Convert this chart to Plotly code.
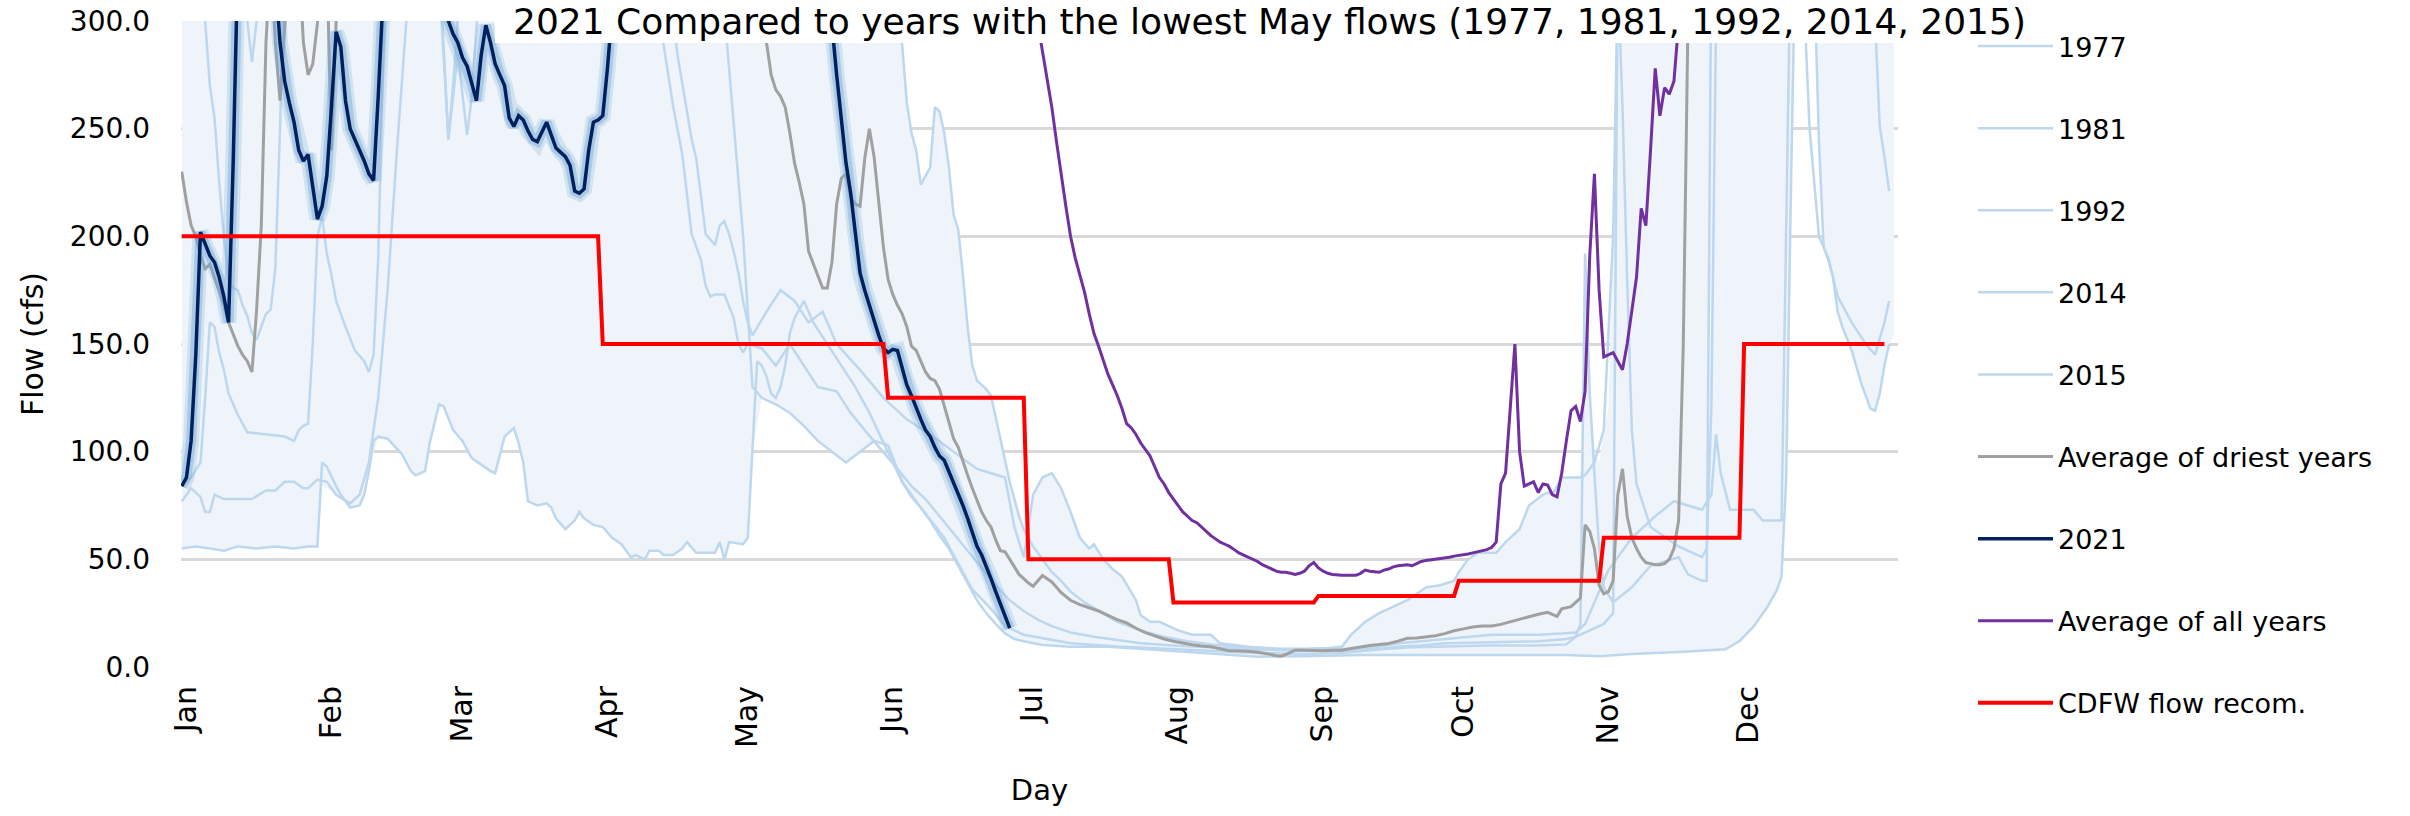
import pandas as pd
import plotly.graph_objects as go

# ---- data (day of year offset from Jan 1, flow in cfs) ----
months = ["Jan", "Feb", "Mar", "Apr", "May", "Jun", "Jul", "Aug", "Sep", "Oct", "Nov", "Dec"]

band_low_day = [0, 3, 6, 9, 12, 16, 20, 24, 27, 29, 30, 31, 33, 34, 36, 38, 39, 40, 41, 42, 44, 47, 49, 50, 52, 53,
                55, 56, 58, 60, 62, 64, 66, 67, 69, 71, 72, 73, 74, 76, 78, 79, 80, 82, 84, 85, 86, 88, 90, 92, 94, 96,
                97, 99, 100, 102, 103, 105, 107, 108, 110, 112, 114, 115, 116, 117, 120, 121, 122, 124, 127, 130, 133,
                136, 139, 142, 145, 148, 151, 154, 158, 163, 166, 169, 173, 176, 179, 184, 190, 198, 208, 219, 230,
                240, 252, 274, 296, 303, 310, 320, 330, 333, 336, 339, 341, 342, 343, 344, 345, 348, 349, 350, 351,
                352, 353, 354, 355, 357, 359, 361, 362, 363, 364, 365, 366]
band_low_flow = [55, 56, 55, 54, 56, 55, 56, 55, 56, 56, 84, 83, 80, 79, 74, 75, 80, 88, 100, 106, 106, 99, 91, 89, 91,
                 102, 120, 121, 110, 104, 97, 94, 91, 90, 107, 111, 104, 95, 77, 75, 76, 74, 69, 64, 68, 72, 69, 66, 65,
                 60, 57, 51, 52, 50, 54, 54, 52, 52, 55, 58, 53, 53, 53, 58, 50, 58, 57, 60, 100, 125, 122, 118, 112,
                 105, 100, 95, 100, 105, 103, 86, 74, 60, 48, 36, 27, 16, 12.5, 10.2, 9.4, 9.4, 8, 6.4, 4.8, 5, 5.6,
                 5.6, 5.6, 5, 6, 7, 8.2, 12, 18.7, 28, 35.7, 42, 88, 220, 340, 360, 320, 244, 195, 189, 181, 165, 158,
                 147, 132, 120, 119, 127, 140, 150, 154]

band_high_day = [0, 152, 153, 154, 155, 156, 157, 158, 159, 160, 161, 162, 163, 164, 165, 166, 167, 168, 169, 170, 171,
                 172, 173, 174, 175, 176, 177, 178, 179, 180, 181, 182, 183, 184, 185, 186, 187, 188, 189, 190, 191,
                 192, 193, 194, 195, 196, 197, 199, 201, 203, 204, 205, 206, 208, 210, 212, 214, 216, 220, 222, 224,
                 228, 232, 236, 240, 244, 248, 250, 253, 256, 259, 262, 266, 269, 272, 273, 275, 277, 281, 283, 286,
                 288, 291, 292, 293, 295, 297, 299, 300, 301, 302, 303, 304, 305, 306, 307, 366]
band_high_flow = [450, 400, 330, 289, 262, 248, 240, 224, 228, 232, 260, 258, 248, 232, 210, 203, 182, 158, 140, 133,
                  131, 129, 126, 116, 105, 95, 88, 80, 72, 64, 62, 78, 84, 88, 89.5, 90, 86, 83, 77, 72, 67, 62, 57, 55,
                  57, 52, 50, 45.5, 42, 35, 31, 25, 22, 21, 19.5, 17.5, 16, 15, 15, 11.3, 10.4, 9.4, 8.8, 8.5, 8.5,
                  8.8, 9.4, 15, 21, 25, 28, 31, 37, 38, 40, 44, 50, 53, 53, 58, 64, 75, 80, 81, 80, 88, 88, 88, 192,
                  127, 100, 95, 110, 120, 200, 330, 400]

y1977_day = [0, 3, 6, 9, 12, 16, 20, 24, 27, 29, 30, 31, 33, 34, 36, 38, 39, 40, 41, 42, 44, 47, 49, 50, 52, 53, 55, 56,
             58, 60, 62, 64, 66, 67, 69, 71, 72, 73, 74, 76, 78, 79, 80, 82, 84, 85, 86, 88, 90, 92, 94, 96, 97, 99,
             100, 102, 103, 105, 107, 108, 110, 112, 114, 115, 116, 117, 120, 121, 122, 123, 124, 125, 126, 127, 128,
             129, 130, 131, 133, 135, 138, 141, 144, 147, 150, 152, 154, 156, 158, 160, 162, 164, 166, 168, 170, 172,
             174, 176, 178, 180, 184, 190, 198, 208, 219, 230, 240, 252, 274, 296, 303, 310, 320, 330, 333, 336, 339,
             341, 342, 343, 344, 345, 348, 349, 350, 351, 352, 353, 354, 355, 357, 359, 361, 362, 363, 364, 365]
y1977_flow = [55, 56, 55, 54, 56, 55, 56, 55, 56, 56, 95, 93, 84, 80, 74, 75, 80, 91, 105, 107, 106, 99, 91, 89, 91, 104,
              122, 121, 110, 105, 97, 94, 91, 90, 107, 111, 104, 95, 77, 75, 76, 74, 69, 64, 68, 72, 69, 66, 65, 60,
              57, 51, 52, 50, 54, 54, 52, 52, 55, 58, 53, 53, 53, 58, 50, 58, 57, 60, 100, 142, 140, 135, 127, 125,
              130, 140, 155, 162, 170, 160, 150, 140, 130, 118, 104, 95, 86, 79, 74, 68, 61, 55, 47, 39, 31, 25, 20,
              15.6, 13, 12, 10.2, 9.4, 9.4, 8, 6.4, 4.8, 5, 5.6, 5.6, 5.6, 5, 6, 7, 8.2, 12, 18.7, 28, 35.7, 42, 88,
              220, 340, 360, 320, 244, 195, 189, 181, 165, 158, 147, 132, 120, 119, 127, 140, 150]

y1981_day = [0, 2, 4, 5, 6, 7, 9, 12, 15, 18, 20, 22, 24, 26, 27, 29, 31, 33, 36, 38, 40, 42, 44, 46, 48, 52, 55, 57,
             59, 61, 62, 64, 75, 100, 115, 120, 122, 124, 127, 130, 133, 136, 139, 142, 145, 148, 151, 154, 158, 163,
             166, 169, 173, 176, 180, 185, 190, 200, 210, 220, 230, 240, 248, 255, 262, 270, 280, 290, 296, 298, 299,
             300, 301, 302, 303, 304, 306, 310, 314, 320, 322, 325, 326, 327, 332, 345, 347, 348, 350, 352, 354, 357,
             360, 362, 364, 365]
y1981_flow = [77, 83, 79, 72, 72, 80, 78, 78, 78, 82, 82, 86, 86, 83, 83, 87, 86, 80, 76, 80, 95, 125, 175, 240, 300,
              340, 320, 245, 285, 247, 265, 330, 420, 380, 330, 200, 130, 125, 122, 118, 112, 105, 100, 95, 100, 105,
              103, 86, 74, 60, 48, 36, 27, 19, 15, 13, 11, 9.5, 8.5, 7.5, 6.5, 6, 6.5, 8, 9, 9.5, 10, 10, 10.5, 14,
              20, 192, 127, 90, 55, 37, 30, 37, 47, 51, 43, 40, 40, 330, 380, 330, 300, 250, 200, 190, 172, 160, 150,
              145, 160, 170]

y1992_day = [0, 2, 4, 5, 6, 7, 8, 9, 10, 12, 14, 18, 22, 24, 25, 26, 27, 28, 29, 30, 31, 32, 33, 35, 37, 39, 40, 41, 42,
             43, 44, 70, 110, 140, 150, 154, 155, 156, 157, 158, 159, 160, 161, 162, 163, 164, 165, 166, 167, 168,
             169, 170, 171, 172, 173, 174, 175, 176, 177, 178, 179, 180, 181, 182, 184, 186, 188, 190, 193, 196, 200,
             205, 210, 215, 220, 225, 230, 235, 240, 245, 248, 250, 253, 256, 259, 262, 266, 269, 272, 273, 275, 277,
             281, 283, 286, 288, 291, 292, 293, 295, 297, 299, 300, 302, 304, 306, 307, 308, 309, 310, 311, 314, 320,
             325, 326, 327, 328, 330, 350, 360, 362, 363, 364, 365]
y1992_flow = [85, 88, 95, 125, 160, 158, 146, 138, 127, 117, 109, 108, 107, 105, 110, 112, 113, 150, 200, 209, 192, 182,
              170, 158, 147, 142, 137, 145, 190, 280, 340, 480, 430, 380, 330, 289, 262, 248, 240, 224, 228, 232, 260,
              258, 248, 232, 210, 203, 182, 158, 140, 133, 131, 129, 126, 116, 105, 95, 86, 78, 70, 64, 60, 56, 50, 44,
              40, 35, 30, 26, 21, 17, 14, 12, 10.5, 9.5, 9, 8.5, 8.5, 8.8, 9.4, 15, 21, 25, 28, 31, 37, 38, 40, 44, 50,
              53, 53, 58, 64, 75, 80, 81, 80, 88, 88, 88, 89, 95, 110, 200, 320, 260, 180, 110, 85, 65, 56, 51, 55,
              120, 300, 380, 400, 320, 300, 251, 237, 221]

y2014_day = [0, 4, 5, 6, 7, 8, 9, 10, 11, 12, 13, 14, 15, 16, 17, 18, 19, 20, 21, 22, 30, 55, 57, 58, 59, 60, 80, 104,
             106, 108, 109, 110, 111, 112, 114, 115, 116, 117, 118, 119, 120, 121, 122, 125, 128, 131, 134, 137, 140,
             145, 150, 155, 160, 165, 170, 173, 176, 178, 180, 182, 184, 186, 188, 190, 192, 194, 195, 197, 199, 201,
             203, 204, 205, 207, 209, 211, 213, 216, 220, 222, 224, 228, 235, 245, 255, 260, 265, 270, 275, 280, 285,
             290, 295, 298, 300, 302, 305, 310, 315, 319, 322, 325, 327, 328, 329, 331, 336, 338, 342, 343, 344, 360,
             365]
y2014_flow = [360, 330, 300, 270, 255, 225, 200, 180, 176, 175, 168, 163, 155, 152, 158, 164, 166, 185, 250, 330, 420,
              330, 245, 270, 300, 330, 420, 320, 284, 257, 245, 236, 218, 201, 196, 205, 207, 201, 193, 183, 170, 160,
              154, 165, 175, 170, 160, 165, 150, 138, 125, 115, 108, 100, 92, 90, 88, 65, 51, 80, 88, 90, 83, 72, 60,
              55, 57, 50, 45.5, 42, 35, 31, 24, 21, 21, 19, 17, 15, 15, 11, 10.4, 9.4, 8, 8, 9, 11, 12, 13, 14, 15,
              15, 15, 15.5, 16, 20, 30, 45, 60, 70, 77, 75, 73, 80, 108, 90, 73, 73, 68, 68, 200, 340, 400, 380]

y2015_day = [0, 10, 14, 15, 16, 17, 40, 80, 101, 103, 105, 107, 109, 111, 112, 113, 114, 116, 118, 119, 120, 121, 124,
             127, 130, 133, 136, 140, 143, 146, 150, 153, 156, 159, 162, 165, 168, 171, 174, 177, 180, 183, 186, 190,
             195, 200, 205, 212, 220, 230, 240, 250, 255, 260, 265, 270, 280, 290, 296, 298, 300, 302, 304, 306, 307,
             309, 312, 320, 343, 345, 350, 365]
y2015_flow = [380, 330, 300, 281, 300, 340, 450, 400, 330, 289, 261, 238, 201, 189, 177, 172, 173, 173, 162, 150, 146,
              150, 148, 140, 150, 140, 130, 128, 118, 110, 100, 92, 84, 78, 70, 62, 54, 46, 38, 31, 26, 22, 19, 16, 14,
              12.5, 11, 10, 9, 8, 7.5, 7.5, 8, 9.5, 10, 11, 11.5, 12, 13, 14, 16, 18, 20, 25, 330, 350, 330, 400, 330,
              350, 380, 360]

avg_dry_day = [0, 1, 2, 3, 4, 5, 6, 7, 8, 9, 10, 11, 12, 13, 14, 15, 16, 17, 18, 19, 20, 21, 22, 23, 25, 26, 27, 28,
               29, 30, 31, 32, 33, 34, 80, 120, 124, 125, 126, 127, 128, 129, 130, 131, 132, 133, 134, 135, 136, 137,
               138, 139, 140, 141, 142, 143, 144, 145, 146, 147, 148, 149, 150, 151, 152, 153, 154, 155, 156, 157, 158,
               159, 160, 161, 162, 163, 164, 165, 166, 167, 168, 169, 170, 171, 172, 173, 174, 175, 176, 177, 178, 179,
               180, 181, 182, 183, 184, 185, 186, 187, 188, 190, 192, 194, 196, 198, 200, 202, 204, 206, 208, 210, 212,
               214, 216, 218, 220, 222, 224, 226, 228, 230, 232, 234, 235, 236, 237, 238, 240, 242, 244, 246, 248, 250,
               252, 254, 256, 258, 260, 262, 264, 266, 268, 270, 272, 274, 276, 278, 280, 282, 284, 286, 288, 290, 292,
               293, 294, 295, 297, 298, 299, 300, 301, 302, 303, 304, 305, 306, 307, 308, 309, 310, 311, 312, 313, 314,
               315, 316, 317, 318, 319, 320, 321, 322, 323, 364]
avg_dry_flow = [230, 216, 205, 200, 191, 185, 187, 181, 175, 168, 160, 154, 149, 145, 142, 137, 166, 205, 290, 330, 290,
                263, 300, 330, 330, 290, 275, 280, 299, 330, 330, 240, 300, 340, 600, 500, 310, 290, 275, 268, 265, 260,
                248, 234, 225, 215, 193, 187, 182, 176, 176, 188, 215, 227, 229, 218, 215, 214, 236, 250, 237, 215,
                195, 180, 173, 168, 164, 158, 149, 147, 142, 137, 134, 133, 129, 121, 113, 106, 102, 95, 89, 83, 77,
                72, 68, 65, 59, 54, 53.5, 50, 46, 43, 41, 39, 37.5, 40, 42.5, 41, 39.5, 37, 34.5, 31, 29, 27.5, 26, 24,
                22, 20.5, 18, 16, 14.5, 13, 12, 11, 10.3, 9.8, 9.4, 8.5, 7.5, 7.4, 7.3, 6.8, 6.2, 5.2, 5, 5.8, 7, 7.8,
                7.8, 7.6, 7.6, 7.8, 7.8, 8.6, 9.4, 10, 10.4, 10.9, 12, 13.3, 13.5, 14, 14.5, 15.5, 16.8, 17.7, 18.6,
                19, 19, 19.8, 21, 22, 23.5, 24.5, 25.4, 24.5, 23.5, 27, 28, 30, 32, 66, 63, 55, 38, 34, 35, 40, 80, 92,
                70, 60, 55, 51, 48.5, 48, 47.5, 47.5, 48, 50, 55, 68, 150, 300, 400, 500]

flow_2021_day = [0, 1, 2, 3, 4, 5, 6, 7, 8, 9, 10, 11, 12, 16, 20, 21, 22, 23, 24, 25, 26, 27, 28, 29, 30, 31, 32, 33,
                 34, 35, 36, 37, 38, 39, 40, 41, 42, 43, 48, 53, 57, 58, 59, 60, 61, 62, 63, 64, 65, 66, 67, 68, 69,
                 70, 71, 72, 73, 74, 75, 76, 77, 78, 79, 80, 81, 82, 83, 84, 85, 86, 87, 88, 89, 90, 91, 92, 93, 100,
                 115, 128, 136, 139, 140, 141, 142, 143, 144, 145, 146, 147, 148, 149, 150, 151, 152, 153, 154, 155,
                 156, 157, 158, 159, 160, 161, 162, 163, 164, 165, 166, 167, 168, 169, 170, 171, 172, 173, 174, 175,
                 176, 177]
flow_2021 = [84, 88, 105, 145, 202, 196, 191, 188, 181, 172, 160, 235, 330, 360, 320, 290, 272, 262, 253, 240, 235, 238,
             224, 208, 214, 228, 260, 295, 288, 263, 250, 245, 241, 235, 229, 226, 265, 310, 340, 330, 300, 294, 290,
             283, 279, 271, 263, 284, 298, 290, 280, 275, 270, 255, 251, 256, 254, 249, 245, 244, 249, 253, 247, 241,
             239, 237, 233, 221, 220, 222, 240, 253, 254, 256, 278, 300, 330, 380, 420, 380, 320, 298, 275, 253, 234,
             220, 200, 183, 175, 168, 160, 154, 148, 146, 147.5, 147, 139, 131, 126, 120, 115, 110, 107, 102, 98, 96,
             91, 86, 80, 75, 69, 62, 56, 52, 47, 41, 35, 29, 23, 18]

avg_all_day = [170, 178, 182, 183, 184, 185, 186, 187, 188, 189, 190, 191, 192, 193, 194, 195, 196, 197, 198, 199, 200,
               201, 202, 203, 204, 205, 206, 207, 208, 209, 210, 211, 212, 213, 214, 215, 216, 217, 218, 219, 220, 221,
               222, 223, 224, 225, 226, 227, 228, 229, 230, 231, 232, 233, 234, 235, 236, 237, 238, 239, 240, 241, 242,
               243, 244, 245, 246, 248, 250, 251, 252, 253, 254, 256, 257, 258, 259, 260, 262, 263, 264, 265, 266, 268,
               270, 271, 272, 274, 275, 276, 277, 278, 279, 280, 281, 282, 283, 284, 285, 286, 287, 288, 289, 290, 291,
               292, 293, 294, 295, 296, 297, 298, 299, 300, 301, 302, 303, 304, 305, 306, 307, 308, 309, 310, 311, 312,
               313, 314, 315, 316, 317, 318, 319, 320, 321, 322, 330]
avg_all_flow = [420, 340, 310, 299, 286, 273, 260, 244, 228, 214, 200, 190, 182, 174, 164, 155, 149, 142, 136, 131, 126,
                120, 113, 111, 108, 104, 101, 98, 93, 88, 85, 81, 78, 75, 72, 70, 68, 67, 65, 63, 61, 59.5, 58, 57, 56,
                54.5, 53, 52, 51, 50, 49, 47.5, 46.5, 45.5, 44.5, 44, 44, 43.5, 43, 43.5, 44.5, 47, 48.5, 46, 44.5,
                43.5, 43, 42.6, 42.6, 42.6, 43.5, 45, 44.5, 44, 45, 45.5, 46.5, 47, 47.5, 47, 48, 49, 49.5, 50, 50.5,
                51, 51.5, 52, 52.5, 53, 53.5, 54, 54.5, 55.5, 58, 85, 90, 120, 150, 100, 84, 85, 86, 81, 85, 84.5, 80,
                79, 90, 105, 119, 121, 114, 128, 191, 229, 175, 144, 145, 146, 142, 138, 150, 165, 181, 213, 205, 240,
                278, 256, 269, 266, 272, 299, 292, 340, 420]

cdfw_day = [0, 89, 90, 150, 151, 180, 181, 211, 212, 242, 243, 272, 273, 303, 304, 333, 334, 364]
cdfw_flow = [200, 200, 150, 150, 125, 125, 50, 50, 30, 30, 33, 33, 40, 40, 60, 60, 150, 150]

years = [("1977", y1977_day, y1977_flow), ("1981", y1981_day, y1981_flow), ("1992", y1992_day, y1992_flow),
         ("2014", y2014_day, y2014_flow), ("2015", y2015_day, y2015_flow)]

JAN1 = pd.Timestamp("2021-01-01")


def to_dates(days):
    return [JAN1 + pd.Timedelta(days=d) for d in days]


# pixel layout of the reference
W, H = 2410, 816
L, R, T, B = 181, 1898, 21, 667
FONT = "DejaVu Sans"

fig = go.Figure()

# min-max envelope of the driest years
fig.add_trace(go.Scatter(x=to_dates(band_low_day), y=band_low_flow, mode="lines", line=dict(width=0),
                         showlegend=False, hoverinfo="skip"))
fig.add_trace(go.Scatter(x=to_dates(band_high_day), y=band_high_flow, mode="lines", line=dict(width=0),
                         fill="tonexty", fillcolor="#EFF4FA", showlegend=False, hoverinfo="skip"))

for i, (name, d, v) in enumerate(years):
    fig.add_trace(go.Scatter(x=to_dates(d), y=v, mode="lines", name=name, legendgroup=f"g{i}",
                             line=dict(color="#BDD7EE", width=2.5)))

fig.add_trace(go.Scatter(x=to_dates(avg_dry_day), y=avg_dry_flow, mode="lines", name="Average of driest years",
                         legendgroup="g5", line=dict(color="#A0A0A0", width=3)))

# soft glow under the 2021 line
for w, a in [(16, 0.25), (10, 0.45)]:
    fig.add_trace(go.Scatter(x=to_dates(flow_2021_day), y=flow_2021, mode="lines", showlegend=False,
                             hoverinfo="skip", line=dict(color=f"rgba(120,170,215,{a})", width=w)))
fig.add_trace(go.Scatter(x=to_dates(flow_2021_day), y=flow_2021, mode="lines", name="2021", legendgroup="g6",
                         line=dict(color="#002060", width=3.5)))

fig.add_trace(go.Scatter(x=to_dates(avg_all_day), y=avg_all_flow, mode="lines", name="Average of all years",
                         legendgroup="g7", line=dict(color="#7030A0", width=3)))
fig.add_trace(go.Scatter(x=to_dates(cdfw_day), y=cdfw_flow, mode="lines", name="CDFW flow recom.",
                         legendgroup="g8", line=dict(color="#FF0000", width=4)))

pw, ph = R - L, B - T


def px_x(x):
    return (x - L) / pw


def px_y(y):
    return (B - y) / ph


# white box of the chart title (covers the envelope under it)
fig.add_shape(type="rect", xref="paper", yref="paper", x0=px_x(495), x1=px_x(2040), y0=px_y(43), y1=px_y(0),
              fillcolor="white", line_width=0, layer="above")
fig.add_annotation(text="2021 Compared to years with the lowest May flows (1977, 1981, 1992, 2014, 2015)",
                   xref="paper", yref="paper", x=px_x(1269), y=px_y(0), xanchor="center", yanchor="top",
                   showarrow=False, borderpad=0, font=dict(family=FONT, size=36, color="black"))

fig.update_layout(
    width=W, height=H,
    margin=dict(l=L, r=W - R, t=T, b=H - B, autoexpand=False),
    paper_bgcolor="white", plot_bgcolor="white",
    font=dict(family=FONT, color="black"),
    showlegend=True,
    legend=dict(x=px_x(1973), xanchor="left", y=px_y(22), yanchor="top", traceorder="grouped",
                tracegroupgap=44, itemwidth=75, maxheight=800,
                font=dict(family=FONT, size=27, color="black"), bgcolor="rgba(0,0,0,0)"),
    xaxis=dict(
        type="date",
        range=[JAN1 - pd.Timedelta(hours=4), JAN1 + pd.Timedelta(days=366.9)],
        tickvals=to_dates([0, 31, 59, 90, 120, 151, 181, 212, 243, 273, 304, 334]),
        ticktext=months, tickangle=-90, ticks="", showgrid=False, zeroline=False, showline=False,
        tickfont=dict(family=FONT, size=30, color="black"), ticklabelstandoff=12, ticklabelshift=4,
        title=dict(text="Day", font=dict(family=FONT, size=29, color="black"), standoff=32),
        automargin=False,
    ),
    yaxis=dict(
        range=[0, 300], dtick=50, tickformat=".1f", showgrid=True, gridcolor="#D9D9D9", gridwidth=2.5,
        zeroline=False, showline=False, ticks="",
        tickfont=dict(family=FONT, size=28, color="black"), ticklabelstandoff=30,
        title=dict(text="Flow (cfs)", font=dict(family=FONT, size=30, color="black"), standoff=17),
        automargin=False,
    ),
)

# the page body has a default 8px margin; remove it so the chart sits at the window origin
fig.write_html("out.html", config={"displayModeBar": False},
               post_script="document.body.style.margin='0px';")
